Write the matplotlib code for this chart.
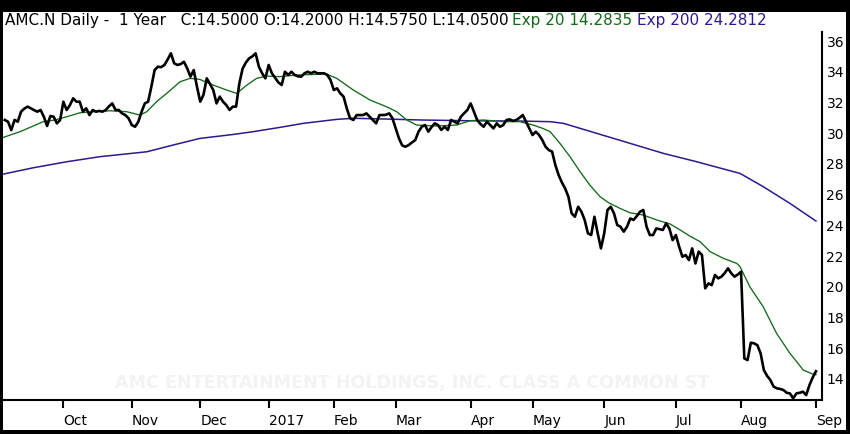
#!/usr/bin/env python3
"""
AMC.N daily close for one year with 20 and 200 day exponential averages.
"""

import numpy as np
import matplotlib.pyplot as plt
from matplotlib.patches import Rectangle

# trading day index, 0 = first session of Oct 2016
first_day = -18

close = [
    30.86, 30.75, 30.20, 30.86, 30.75, 31.40, 31.60, 31.73, 31.62, 31.50,
    31.40, 31.51, 31.07, 30.47, 31.12, 31.07, 30.64, 30.86, 32.05, 31.51,
    31.83, 32.27, 32.05, 32.05, 31.40, 31.62, 31.18, 31.51, 31.40, 31.45,
    31.40, 31.51, 31.75, 31.94, 31.51, 31.51, 31.29, 31.18, 30.97, 30.53,
    30.42, 30.75, 31.40, 31.94, 32.05, 33.03, 34.11, 34.33, 34.30, 34.44,
    34.80, 35.20, 34.55, 34.44, 34.50, 34.65, 34.22, 33.68, 34.11, 33.03,
    32.05, 32.50, 33.57, 33.20, 32.81, 31.94, 32.38, 32.05, 31.83, 31.51,
    31.73, 31.73, 33.24, 34.20, 34.60, 34.87, 35.00, 35.20, 34.33, 33.90,
    33.57, 34.44, 33.90, 33.60, 33.30, 33.14, 34.00, 33.79, 34.00, 33.79,
    33.70, 33.68, 33.90, 34.00, 33.90, 34.00, 33.90, 33.90, 33.90, 33.79,
    33.46, 32.81, 32.92, 32.59, 32.38, 31.60, 30.97, 30.86, 31.18, 31.18,
    31.18, 31.29, 31.07, 30.85, 30.64, 31.18, 31.18, 31.20, 31.29, 30.97,
    30.31, 29.66, 29.20, 29.12, 29.23, 29.40, 29.55, 30.10, 30.42, 30.53,
    30.10, 30.40, 30.64, 30.53, 30.21, 30.42, 30.21, 30.86, 30.75, 30.64,
    31.07, 31.30, 31.51, 31.94, 31.40, 30.86, 30.60, 30.42, 30.75, 30.53,
    30.31, 30.64, 30.42, 30.53, 30.86, 30.90, 30.80, 30.86, 31.00, 31.18,
    30.75, 30.31, 29.88, 30.10, 29.88, 29.55, 29.12, 28.90, 28.80, 27.93,
    27.28, 26.80, 26.40, 25.87, 24.78, 24.56, 25.21, 24.89, 24.35, 23.48,
    23.37, 24.56, 23.48, 22.50, 23.48, 25.00, 25.21, 24.78, 24.02, 23.91,
    23.59, 23.91, 24.45, 24.35, 24.60, 24.89, 25.00, 23.91, 23.37, 23.37,
    23.80, 23.75, 23.70, 24.13, 23.80, 23.04, 23.37, 22.61, 21.96, 22.07,
    21.74, 22.50, 21.52, 22.29, 22.07, 19.90, 20.22, 20.11, 20.77, 20.55,
    20.66, 20.90, 21.20, 20.88, 20.66, 20.80, 20.98, 15.34, 15.23, 16.36,
    16.32, 16.20, 15.67, 14.58, 14.20, 13.93, 13.50, 13.39, 13.35, 13.28,
    13.10, 13.06, 12.74, 13.06, 13.10, 13.17, 12.95, 13.60, 14.10, 14.50,
]

ema20_day = [
    -18.4, -13.3, -9.2, -6.2, -2.6, 1.0, 5.1, 9.2, 14.3, 19.4,
    23.5, 25.6, 28.6, 31.7, 35.8, 38.9, 41.9, 46.0, 50.1, 53.2,
    56.3, 59.3, 62.4, 66.5, 71.6, 80.8, 83.9, 89.0, 94.1, 99.2,
    102.3, 105.4, 108.4, 114.6, 120.7, 124.8, 128.9, 135.0, 140.1, 144.2,
    147.3, 149.4, 152.4, 155.5, 158.6, 161.6, 164.7, 167.3, 170.8, 173.9,
    178.0, 182.1, 186.2, 189.3, 192.3, 195.4, 198.5, 202.6, 206.7, 207.7,
    210.7, 214.8, 218.9, 223.0, 227.1, 230.0, 231.0,
]
ema20 = [
    29.73, 30.10, 30.47, 30.75, 30.86, 31.07, 31.33, 31.40, 31.46, 31.40,
    31.18, 31.40, 32.05, 32.59, 33.35, 33.57, 33.50, 33.13, 32.81, 32.59,
    33.13, 33.57, 33.72, 33.68, 33.79, 33.85, 33.57, 32.81, 32.16, 31.72,
    31.40, 30.86, 30.53, 30.47, 30.53, 30.81, 30.86, 30.75, 30.75, 30.53,
    30.30, 30.10, 29.34, 28.47, 27.49, 26.62, 25.87, 25.48, 25.11, 24.82,
    24.67, 24.35, 24.09, 23.70, 23.30, 22.94, 22.29, 21.85, 21.52, 21.31,
    20.00, 18.70, 16.97, 15.67, 14.58, 14.32, 14.28,
]

ema200_day = [
    -18.4, -9.2, 1.0, 11.2, 25.6, 33.7, 41.9, 52.2, 58.3, 66.5,
    73.6, 83.9, 89.0, 99.2, 109.5, 124.8, 140.1, 149.4, 153.5, 163.7,
    173.9, 184.1, 194.4, 207.7, 214.8, 223.0, 231.0,
]
ema200 = [
    27.34, 27.75, 28.14, 28.47, 28.79, 29.23, 29.66, 29.92, 30.10, 30.38,
    30.64, 30.90, 30.97, 30.92, 30.86, 30.81, 30.79, 30.75, 30.64, 29.99,
    29.34, 28.69, 28.14, 27.38, 26.52, 25.43, 24.28,
]

month_days = [0, 21, 42, 63, 83, 102, 125, 144, 166, 188, 208, 231]
month_labels = ["Oct", "Nov", "Dec", "2017", "Feb", "Mar", "Apr", "May",
                "Jun", "Jul", "Aug", "Sep"]
price_ticks = [14, 16, 18, 20, 22, 24, 26, 28, 30, 32, 34, 36]

header = "AMC.N Daily -  1 Year   C:14.5000 O:14.2000 H:14.5750 L:14.0500"
header_ema20 = "Exp 20 14.2835"
header_ema200 = "Exp 200 24.2812"
watermark = "AMC ENTERTAINMENT HOLDINGS, INC. CLASS A COMMON ST"

GREEN = "#13691a"
PURPLE = "#2c1a8e"


def main():
    W, H = 850, 434
    fig = plt.figure(figsize=(W / 100, H / 100), dpi=100, facecolor="black")

    # white panel inside the black frame
    fig.patches.append(Rectangle((3 / W, 4 / H), 843 / W, 418 / H,
                                 transform=fig.transFigure,
                                 facecolor="white", edgecolor="none", zorder=0))

    ax = fig.add_axes([3 / W, 34 / H, 819.3 / W, 388 / H])
    ax.set_facecolor("none")
    ax.set_zorder(2)

    days = np.arange(first_day, first_day + len(close))

    # faint company name behind the lines
    ax.text(0.5, (434 - 383 - 34) / 388, watermark, transform=ax.transAxes,
            color="#f3f3f3", fontsize=12.6, fontweight="bold",
            ha="center", va="center", zorder=1)

    ax.plot(ema200_day, ema200, color=PURPLE, lw=1.1, zorder=2)
    ax.plot(ema20_day, ema20, color=GREEN, lw=0.95, zorder=3)
    ax.plot(days, close, color="black", lw=1.9, zorder=4)

    ax.set_xlim(-18.54, 232.94)
    ax.set_ylim(12.63, 37.89)

    ax.spines["left"].set_visible(False)
    ax.spines["top"].set_visible(False)
    ax.spines["bottom"].set_linewidth(1.5)
    ax.spines["right"].set_linewidth(1.5)
    ax.spines["right"].set_bounds(12.63, 36.6)

    ax.yaxis.tick_right()
    ax.set_yticks(price_ticks)
    ax.set_yticklabels([str(t) for t in price_ticks])
    ax.tick_params(axis="y", length=0, pad=3, labelsize=10)

    ax.set_xticks(month_days)
    ax.set_xticklabels(month_labels, ha="left")
    ax.tick_params(axis="x", direction="out", length=6, width=1.5, pad=4,
                   labelsize=10)

    # header line above the plot
    y_head = (434 - 21) / H
    fig.text(5 / W, y_head, header, fontsize=11, va="center", ha="left")
    fig.text(512 / W, y_head, header_ema20, fontsize=11, va="center",
             ha="left", color=GREEN)
    fig.text(637 / W, y_head, header_ema200, fontsize=11, va="center",
             ha="left", color=PURPLE)

    fig.savefig("out.png", dpi=100, facecolor="black")
    plt.close(fig)


if __name__ == "__main__":
    main()
